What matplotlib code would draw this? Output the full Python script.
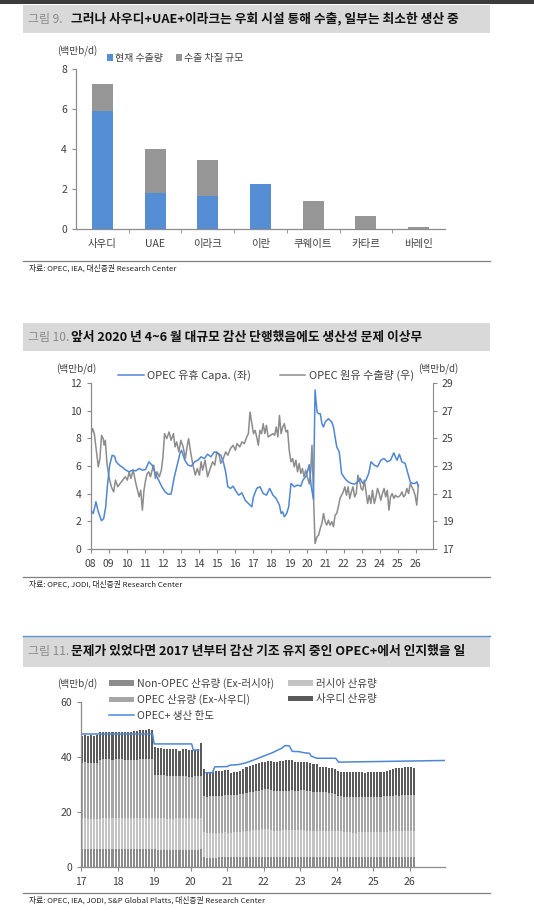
import numpy as np
import matplotlib
matplotlib.use('Agg')
import matplotlib.pyplot as plt
from matplotlib.patches import Rectangle
from matplotlib.lines import Line2D

plt.rcParams['font.family'] = ['Noto Sans CJK KR', 'DejaVu Sans']
plt.rcParams['axes.unicode_minus'] = False

# ---------------- data: 그림 9 ----------------
countries = ['사우디', 'UAE', '이라크', '이란', '쿠웨이트', '카타르', '바레인']
export_now = [5.92, 1.80, 1.68, 2.28, 0.0, 0.0, 0.0]
export_lost = [1.33, 2.20, 1.78, 0.0, 1.43, 0.67, 0.13]

# ---------------- data: 그림 10 ----------------
spare_yr = [2008.00, 2008.14, 2008.29, 2008.42, 2008.60, 2008.72, 2008.83, 2008.92,
            2009.05, 2009.19, 2009.32, 2009.41, 2009.59, 2009.77, 2009.95,
            2010.13, 2010.31, 2010.50, 2010.68, 2010.86,
            2011.04, 2011.22, 2011.40, 2011.58, 2011.76, 2011.94,
            2012.12, 2012.27, 2012.45, 2012.63, 2012.81, 2012.94,
            2013.03, 2013.21, 2013.39, 2013.57, 2013.75, 2013.93,
            2014.11, 2014.29, 2014.47, 2014.65, 2014.84,
            2015.02, 2015.20, 2015.34, 2015.47, 2015.59, 2015.74, 2015.88,
            2016.01, 2016.19, 2016.37, 2016.55, 2016.73, 2016.92,
            2017.01, 2017.19, 2017.37, 2017.55, 2017.73, 2017.91,
            2018.09, 2018.27, 2018.45, 2018.54, 2018.63, 2018.72, 2018.85, 2018.96,
            2019.09, 2019.27, 2019.45, 2019.63, 2019.75, 2019.90,
            2020.00, 2020.10, 2020.20, 2020.33, 2020.42, 2020.53, 2020.62, 2020.71, 2020.80, 2020.89, 2020.98,
            2021.07, 2021.16, 2021.25, 2021.35, 2021.44, 2021.53, 2021.62, 2021.76, 2021.89,
            2022.07, 2022.25, 2022.43, 2022.61, 2022.79, 2022.92,
            2023.06, 2023.24, 2023.39, 2023.52, 2023.70, 2023.88,
            2024.06, 2024.24, 2024.42, 2024.60, 2024.78, 2024.87, 2024.96,
            2025.09, 2025.23, 2025.41, 2025.56, 2025.69, 2025.81, 2025.96,
            2026.05, 2026.14]
spare_val = [2.81, 2.57, 3.41, 2.69, 2.04, 2.21, 3.05, 4.50,
             6.06, 6.78, 6.71, 6.30, 6.06, 5.89, 5.70,
             5.58, 5.70, 5.65, 5.82, 5.70,
             5.75, 6.30, 6.06, 5.46, 4.98, 4.50,
             4.13, 3.97, 3.97, 5.22, 6.18, 6.90,
             7.14, 6.42, 6.06, 5.99, 6.30, 6.42,
             6.66, 6.54, 6.85, 6.66, 7.02,
             6.95, 6.78, 6.30, 5.58, 4.50, 4.38, 4.54,
             4.25, 3.89, 4.06, 3.53, 3.29, 3.05,
             3.77, 4.38, 4.50, 4.01, 3.89, 4.38,
             3.89, 3.65, 3.17, 2.57, 2.69, 2.33, 2.57, 3.05,
             4.74, 4.50, 4.62, 4.54, 4.98, 5.22,
             5.60, 6.10, 4.60, 3.60, 11.50, 9.90, 9.78, 9.78, 9.06, 8.82, 9.18,
             9.30, 9.42, 9.30, 9.18, 8.82, 8.10, 7.38, 7.02, 5.46,
             5.10, 4.86, 4.74, 4.69, 4.86, 5.10,
             4.74, 4.98, 5.46, 6.30, 6.06, 5.94,
             6.42, 6.54, 6.30, 6.42, 6.95, 6.66, 6.42,
             6.85, 6.30, 6.18, 5.46, 4.86, 4.74, 4.74,
             4.86, 4.54]

export_yr = [2008.00, 2008.11, 2008.20, 2008.29, 2008.42, 2008.51, 2008.60, 2008.69, 2008.74, 2008.81, 2008.90,
             2009.01, 2009.14, 2009.27, 2009.37, 2009.50, 2009.63, 2009.77, 2009.92,
             2010.03, 2010.13, 2010.22, 2010.35, 2010.50, 2010.59, 2010.68, 2010.77, 2010.86, 2010.95,
             2011.04, 2011.13, 2011.22, 2011.31, 2011.40, 2011.49, 2011.58, 2011.67, 2011.80, 2011.91,
             2012.00, 2012.09, 2012.21, 2012.34, 2012.45, 2012.58, 2012.67, 2012.76, 2012.88, 2012.99,
             2013.12, 2013.24, 2013.35, 2013.42, 2013.53, 2013.66, 2013.79, 2013.90,
             2014.02, 2014.11, 2014.20, 2014.33, 2014.47, 2014.62, 2014.75, 2014.87, 2014.98,
             2015.11, 2015.20, 2015.34, 2015.47, 2015.59, 2015.74, 2015.88,
             2016.01, 2016.10, 2016.25, 2016.37, 2016.50, 2016.64, 2016.73, 2016.82, 2016.92,
             2017.01, 2017.10, 2017.19, 2017.28, 2017.37, 2017.46, 2017.55, 2017.64, 2017.73, 2017.82, 2017.95,
             2018.09, 2018.18, 2018.27, 2018.36, 2018.45, 2018.54, 2018.63, 2018.72, 2018.81, 2018.90, 2018.99,
             2019.09, 2019.18, 2019.27, 2019.36, 2019.45, 2019.54, 2019.63, 2019.72, 2019.81, 2019.90, 2019.99,
             2020.10, 2020.18, 2020.25, 2020.33, 2020.42, 2020.53, 2020.62, 2020.71, 2020.80, 2020.89, 2020.98,
             2021.07, 2021.16, 2021.25, 2021.35, 2021.44, 2021.53, 2021.62, 2021.71, 2021.80, 2021.89, 2021.98,
             2022.07, 2022.16, 2022.25, 2022.34, 2022.43, 2022.52, 2022.61, 2022.70, 2022.79, 2022.88, 2022.97,
             2023.06, 2023.15, 2023.24, 2023.33, 2023.42, 2023.51, 2023.60, 2023.70, 2023.79, 2023.88, 2023.97,
             2024.06, 2024.15, 2024.24, 2024.33, 2024.42, 2024.51, 2024.60, 2024.69, 2024.78, 2024.87, 2024.96,
             2025.05, 2025.14, 2025.23, 2025.32, 2025.41, 2025.50, 2025.60, 2025.69, 2025.78, 2025.87, 2025.96,
             2026.05, 2026.14]
export_val = [25.22, 25.70, 25.34, 24.38, 22.94, 23.54, 25.22, 24.98, 24.50, 24.86, 23.18,
              22.22, 21.50, 21.13, 21.98, 21.50, 21.74, 21.98, 22.22,
              21.98, 22.58, 22.10, 22.70, 21.74, 21.25, 20.77, 21.25, 19.81, 21.25,
              21.98, 22.46, 22.58, 22.22, 22.70, 23.06, 22.10, 22.58, 22.22, 22.70,
              23.66, 25.34, 24.98, 25.46, 24.86, 25.34, 24.38, 24.74, 24.02, 24.86,
              24.38, 23.54, 24.50, 24.98, 24.02, 23.06, 22.34, 22.82,
              22.34, 23.30, 22.70, 23.42, 22.22, 22.82, 23.30, 23.06, 24.02,
              23.78, 23.18, 23.54, 24.02, 23.78, 24.26, 24.50,
              24.14, 24.62, 24.38, 24.74, 24.62, 25.10, 25.34, 26.90, 26.06,
              25.34, 25.58, 25.10, 24.50, 25.58, 25.34, 26.06, 25.34, 25.94, 25.10, 25.22,
              25.34, 25.22, 25.82, 25.10, 26.66, 25.34, 25.82, 26.06, 25.46, 25.58, 24.14,
              23.30, 23.54, 22.94, 23.42, 22.58, 23.18, 22.46, 22.82, 22.22, 22.70, 22.22,
              21.70, 22.60, 24.50, 21.00, 17.40, 17.89, 18.01, 18.49, 18.85, 19.57, 18.97,
              18.73, 19.09, 18.73, 18.97, 18.61, 19.45, 19.57, 20.05, 20.65, 20.89, 21.13,
              21.50, 20.89, 21.50, 20.65, 21.13, 21.50, 20.77, 21.01, 22.34, 21.98, 21.38,
              21.25, 21.98, 21.13, 20.29, 20.89, 20.29, 21.25, 20.29, 20.77, 21.38, 21.01,
              20.53, 21.01, 21.38, 20.77, 21.25, 19.81, 20.77, 21.01, 20.65, 20.89, 20.77,
              20.77, 20.89, 21.13, 20.77, 20.89, 21.38, 21.01, 21.74, 21.50, 21.25, 20.89,
              20.17, 21.62]

# ---------------- data: 그림 11 (monthly, 2017-01 ~ 2026-02) ----------------
prod_start = 2017
non_opec = [6.7, 6.7, 6.6, 6.6, 6.6, 6.6, 6.6, 6.7, 6.7, 6.6, 6.6, 6.7,
            6.6, 6.6, 6.6, 6.6, 6.5, 6.5, 6.5, 6.6, 6.6, 6.6, 6.6, 6.6,
            6.5, 6.4, 6.4, 6.4, 6.3, 6.3, 6.3, 6.4, 6.4, 6.4, 6.4, 6.4,
            6.4, 6.4, 6.3, 6.5, 3.6, 3.5, 3.5, 3.5, 3.5, 3.6, 3.6, 3.6,
            3.6, 3.6, 3.6, 3.6, 3.6, 3.6, 3.7, 3.7, 3.7, 3.7, 3.7, 3.7,
            3.8, 3.8, 3.8, 3.8, 3.7, 3.7, 3.7, 3.8, 3.8, 3.8, 3.8, 3.8,
            3.8, 3.8, 3.8, 3.8, 3.7, 3.7, 3.7, 3.7, 3.7, 3.7, 3.7, 3.7,
            3.7, 3.7, 3.6, 3.6, 3.6, 3.6, 3.6, 3.7, 3.7, 3.7, 3.7, 3.8,
            3.8, 3.8, 3.8, 3.8, 3.9, 3.9, 3.9, 3.9, 3.8, 3.8, 3.8, 3.8,
            3.8, 3.8]
russia = [11.1, 11.1, 11.0, 11.0, 11.0, 11.0, 11.0, 11.0, 11.1, 11.1, 11.1, 11.1,
          11.1, 11.1, 11.1, 11.1, 11.2, 11.2, 11.2, 11.2, 11.2, 11.2, 11.3, 11.3,
          11.3, 11.3, 11.3, 11.3, 11.3, 11.2, 11.3, 11.3, 11.3, 11.3, 11.3, 11.3,
          11.3, 11.3, 11.3, 11.2, 9.1, 8.9, 9.0, 9.0, 9.0, 9.0, 9.0, 9.1,
          9.0, 9.0, 9.1, 9.2, 9.3, 9.4, 9.5, 9.6, 9.7, 9.8, 9.9, 10.0,
          10.0, 10.0, 9.8, 9.2, 9.3, 9.6, 9.7, 9.7, 9.7, 9.7, 9.6, 9.6,
          9.6, 9.6, 9.4, 9.3, 9.3, 9.3, 9.3, 9.3, 9.3, 9.3, 9.3, 9.3,
          9.3, 9.3, 9.3, 9.2, 9.1, 9.0, 9.0, 9.0, 9.0, 9.0, 9.0, 9.0,
          9.0, 9.0, 9.0, 9.0, 9.0, 9.1, 9.1, 9.2, 9.2, 9.3, 9.3, 9.3,
          9.3, 9.3]
opec_ex_saudi = [20.1, 20.2, 20.2, 20.3, 20.2, 20.3, 21.3, 21.4, 21.4, 21.4, 21.3, 21.4,
                 21.4, 21.4, 21.3, 21.3, 21.2, 21.3, 21.3, 21.4, 21.4, 21.4, 21.3, 21.3,
                 15.7, 15.6, 15.6, 15.6, 15.6, 15.6, 15.5, 15.5, 15.4, 15.3, 15.2, 15.1,
                 15.1, 15.2, 15.4, 15.4, 13.2, 13.1, 13.2, 13.3, 13.3, 13.3, 13.4, 13.4,
                 13.5, 13.5, 13.5, 13.5, 13.6, 13.7, 13.8, 13.9, 14.0, 14.1, 14.2, 14.3,
                 14.4, 14.4, 14.5, 14.6, 14.6, 14.5, 14.4, 14.3, 14.3, 14.4, 14.3, 14.3,
                 14.5, 14.5, 14.6, 14.5, 14.3, 14.3, 14.2, 14.2, 14.2, 14.1, 14.0, 13.5,
                 12.8, 12.7, 12.7, 12.7, 12.8, 12.9, 12.9, 12.8, 12.8, 12.7, 12.8, 12.8,
                 12.8, 12.8, 12.8, 12.9, 12.9, 12.9, 13.0, 13.0, 13.0, 13.1, 13.1, 13.1,
                 13.1, 13.1]
saudi = [9.8, 9.9, 9.9, 9.9, 9.9, 10.0, 10.0, 10.0, 10.0, 9.9, 9.9, 10.0,
         9.9, 9.9, 9.9, 9.9, 10.0, 10.4, 10.4, 10.4, 10.6, 10.7, 11.0, 10.6,
         10.2, 9.8, 9.8, 9.7, 9.7, 9.8, 9.6, 9.8, 9.0, 9.9, 9.8, 9.6,
         9.7, 9.7, 10.0, 12.0, 9.8, 8.6, 8.8, 8.9, 9.0, 9.0, 9.0, 9.0,
         9.0, 8.2, 8.2, 8.3, 8.5, 8.8, 9.5, 9.6, 9.7, 9.8, 9.9, 10.0,
         10.1, 10.2, 10.3, 10.4, 10.5, 10.6, 10.8, 10.9, 11.0, 10.9, 10.5, 10.4,
         10.3, 10.3, 10.3, 10.3, 10.0, 10.0, 9.0, 9.0, 9.0, 9.0, 9.0, 9.0,
         9.0, 9.0, 9.0, 9.0, 9.0, 9.0, 9.0, 9.0, 8.9, 8.9, 9.0, 9.0,
         9.0, 9.0, 9.0, 9.0, 9.1, 9.4, 9.6, 9.7, 9.8, 9.9, 10.0, 10.0,
         10.0, 9.9]
cap_yr = [2017.00, 2018.96, 2019.00, 2020.03, 2020.07, 2020.22, 2020.23, 2020.42, 2020.60, 2020.66,
          2021.00, 2021.08, 2021.30, 2021.50, 2021.75, 2022.00, 2022.25, 2022.50, 2022.58, 2022.70,
          2022.78, 2022.97, 2023.10, 2023.25, 2023.30, 2023.45, 2023.97, 2024.05, 2024.50, 2025.50,
          2026.95]
cap_val = [48.3, 48.3, 44.7, 44.7, 42.5, 42.5, np.nan, 34.3, 34.3, 36.4,
           36.5, 37.0, 37.2, 37.8, 39.0, 40.3, 41.6, 43.2, 44.1, 44.0,
           42.0, 41.9, 41.5, 41.3, 40.3, 39.5, 39.5, 38.1, 38.2, 38.4,
           38.7]

# ---------------- layout helpers (pixel coords) ----------------
W, H = 534, 914
fig = plt.figure(figsize=(W / 100, H / 100), dpi=100)

TXT = '#404040'
AXC = '#8c8c8c'
BLUE = '#4F87D4'


def px_axes(l, t, r, b):
    return fig.add_axes([l / W, 1 - b / H, (r - l) / W, (b - t) / H])


def ftext(x, y, s, **kw):
    kw.setdefault('va', 'center')
    return fig.text(x / W, 1 - y / H, s, **kw)


def frect(x0, y0, x1, y1, color):
    fig.add_artist(Rectangle((x0 / W, 1 - y1 / H), (x1 - x0) / W, (y1 - y0) / H,
                             transform=fig.transFigure, color=color, lw=0, zorder=0))


def fhline(x0, x1, y, color, lw):
    fig.add_artist(Line2D([x0 / W, x1 / W], [1 - y / H, 1 - y / H],
                          transform=fig.transFigure, color=color, lw=lw))


def title_block(y0, y1, num, text, blue_top=False):
    frect(22.7, y0, 490, y1, '#d9d9d9')
    if blue_top:
        fhline(22.7, 490, y0, '#5b8fd6', 1.0)
    yc = (y0 + y1) / 2
    ftext(28, yc, num, fontsize=8.6, color='#8a8a8a')
    ftext(71, yc, text, fontsize=9.2, color='#111111', fontweight='bold')


def source_block(y_line, text):
    fhline(22.7, 490, y_line, '#7f7f7f', 0.9)
    ftext(29, y_line + 7.5, text, fontsize=5.6, color='#222222')


def style_axes(ax):
    for s in ['top', 'right']:
        ax.spines[s].set_visible(False)
    for s in ['left', 'bottom']:
        ax.spines[s].set_color(AXC)
        ax.spines[s].set_linewidth(0.9)
    ax.tick_params(axis='both', colors=AXC, labelcolor=TXT, labelsize=7.5,
                   length=3, width=0.8, direction='out')


# top dark band
frect(0, 0, W, 3.5, '#3c3c3c')

# ================= 그림 9 =================
title_block(5, 33, '그림 9.', '그러나 사우디+UAE+이라크는 우회 시설 통해 수출, 일부는 최소한 생산 중')
ax1 = px_axes(76, 69, 445, 229.3)
xpos = np.arange(len(countries))
b_now = ax1.bar(xpos, export_now, width=0.4, color='#558ED5', label='현재 수출량')
b_lost = ax1.bar(xpos, export_lost, width=0.4, bottom=export_now, color='#969696',
                 label='수출 차질 규모')
ax1.set_xlim(-0.5, len(countries) - 0.5)
ax1.set_ylim(0, 8)
ax1.set_yticks([0, 2, 4, 6, 8])
style_axes(ax1)
ax1.set_xticks(xpos)
ax1.set_xticklabels(countries)
ax1.set_xticks(xpos[:-1] + 0.5, minor=True)
ax1.tick_params(axis='x', which='major', length=0, pad=7)
ax1.tick_params(axis='x', which='minor', length=3, color=AXC)
ftext(77, 51.7, '(백만b/d)', fontsize=7, color=TXT, ha='center')
ax1.legend(handles=[b_now, b_lost], loc='center left', ncol=2, frameon=False,
           bbox_to_anchor=(107 / W, 1 - 58 / H), bbox_transform=fig.transFigure,
           fontsize=7.2, handlelength=0.6, handleheight=0.6, handletextpad=0.2,
           columnspacing=1.3, labelcolor=TXT, borderaxespad=0, borderpad=0)
source_block(260.7, '자료: OPEC, IEA, 대신증권 Research Center')

# ================= 그림 10 =================
title_block(323.3, 350.7, '그림 10.', '앞서 2020 년 4~6 월 대규모 감산 단행했음에도 생산성 문제 이상무')
ax2 = px_axes(90.7, 383, 433, 549)
ax2b = ax2.twinx()
l_spare, = ax2.plot(spare_yr, spare_val, color=BLUE, lw=1.1, label='OPEC 유휴 Capa. (좌)', zorder=3)
l_exp, = ax2b.plot(export_yr, export_val, color='#8c8c8c', lw=1.1, label='OPEC 원유 수출량 (우)')
ax2.set_zorder(ax2b.get_zorder() + 1)
ax2.patch.set_visible(False)
ax2.set_xlim(2008, 2026.95)
ax2.set_ylim(0, 12)
ax2.set_yticks(range(0, 13, 2))
ax2b.set_ylim(17, 29)
ax2b.set_yticks(range(17, 30, 2))
style_axes(ax2)
style_axes(ax2b)
ax2b.spines['right'].set_visible(True)
ax2b.spines['right'].set_color(AXC)
ax2b.spines['left'].set_visible(False)
ax2b.spines['bottom'].set_visible(False)
years2 = list(range(2008, 2027))
ax2.set_xticks(years2)
ax2.set_xticklabels(['%02d' % (y % 100) for y in years2])
ax2.tick_params(axis='x', pad=4)
ftext(76, 369, '(백만b/d)', fontsize=7, color=TXT, ha='center')
ftext(438, 369, '(백만b/d)', fontsize=7, color=TXT, ha='center')
ax2.legend(handles=[l_spare, l_exp], loc='center left', ncol=2, frameon=False,
           bbox_to_anchor=(118 / W, 1 - 375 / H), bbox_transform=fig.transFigure,
           fontsize=8, handlelength=2.3, handletextpad=0.3, columnspacing=2.6,
           labelcolor=TXT, borderaxespad=0, borderpad=0)
source_block(577.3, '자료: OPEC, JODI, 대신증권 Research Center')

# ================= 그림 11 =================
title_block(636, 666.7, '그림 11.', '문제가 있었다면 2017 년부터 감산 기조 유지 중인 OPEC+에서 인지했을 일',
            blue_top=True)
ax3 = px_axes(81, 701.7, 445, 867.3)
months = np.arange(len(saudi))
bx = prod_start + months / 12
s1 = np.array(non_opec)
s2 = s1 + np.array(russia)
s3 = s2 + np.array(opec_ex_saudi)
bw = 0.056
b_non = ax3.bar(bx, non_opec, width=bw, align='edge', color='#8c8c8c', lw=0,
                label='Non-OPEC 산유량 (Ex-러시아)')
b_rus = ax3.bar(bx, russia, width=bw, align='edge', bottom=s1, color='#c4c4c4', lw=0,
                label='러시아 산유량')
b_ope = ax3.bar(bx, opec_ex_saudi, width=bw, align='edge', bottom=s2, color='#a6a6a6', lw=0,
                label='OPEC 산유량 (Ex-사우디)')
b_sau = ax3.bar(bx, saudi, width=bw, align='edge', bottom=s3, color='#5a5a5a', lw=0,
                label='사우디 산유량')
l_cap, = ax3.plot(cap_yr, cap_val, color=BLUE, lw=1.1, label='OPEC+ 생산 한도')
ax3.set_xlim(2017, 2026.96)
ax3.set_ylim(0, 60)
ax3.set_yticks([0, 20, 40, 60])
style_axes(ax3)
years3 = list(range(2017, 2027))
ax3.set_xticks(years3)
ax3.set_xticklabels(['%02d' % (y % 100) for y in years3])
ax3.tick_params(axis='x', pad=4)
ftext(77, 684.3, '(백만b/d)', fontsize=7, color=TXT, ha='center')
ax3.legend(handles=[b_non, b_ope, l_cap, b_rus, b_sau], loc='upper left', ncol=2,
           frameon=False, bbox_to_anchor=(109 / W, 1 - 678 / H), bbox_transform=fig.transFigure,
           fontsize=7.6, handlelength=2.4, handleheight=0.45, handletextpad=0.25,
           columnspacing=1.3, labelspacing=0.5, labelcolor=TXT, borderaxespad=0, borderpad=0)
source_block(893.3, '자료: OPEC, IEA, JODI, S&P Global Platts, 대신증권 Research Center')

fig.savefig('out.png', dpi=100)
